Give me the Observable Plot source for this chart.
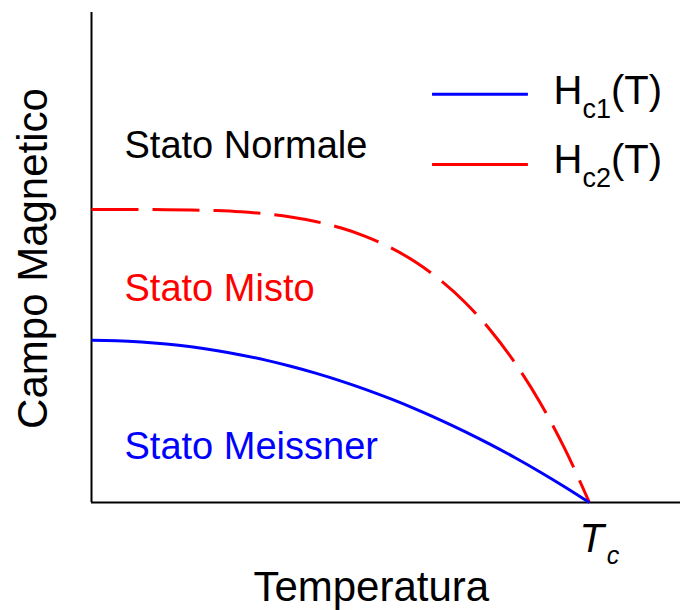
<!DOCTYPE html>
<html><head><meta charset="utf-8">
<script src="https://cdn.jsdelivr.net/npm/d3@7"></script>
<script src="https://cdn.jsdelivr.net/npm/@observablehq/plot@0.6"></script>
<style>body{margin:0;background:#fff}#chart{width:681px;height:610px}</style>
</head><body><div id="chart"></div>
<script>
// Temperature in units of Tc, field in arbitrary units (0–100 = axis height)
const temperature = [0,0.05,0.1,0.15,0.2,0.25,0.3,0.35,0.4,0.45,0.5,0.55,0.6,0.65,0.7,0.75,0.8,0.85,0.9,0.95,1];
const hc1 = [33.1,33.02,32.77,32.36,31.78,31.03,30.12,29.05,27.8,26.4,24.83,23.09,21.18,19.12,16.88,14.48,11.92,9.19,6.29,3.23,0];
const hc2 = [59.8,59.8,59.79,59.77,59.7,59.57,59.32,58.9,58.27,57.35,56.06,54.33,52.05,49.13,45.44,40.88,35.31,28.58,20.57,11.09,0];
const seriesNames = ["Hc1(T)", "Hc2(T)"];
const seriesColors = ["#0000ff", "#ff0000"];
const regionLabels = ["Stato Normale", "Stato Misto", "Stato Meissner"];
const regionColors = ["#000000", "#ff0000", "#0000ff"];
const xTickLabels = ["Tc"];
const xTitle = "Temperatura";
const yTitle = "Campo Magnetico";

const font = "'Liberation Sans', Arial, sans-serif";
const toRows = (ys) => temperature.map((t, i) => ({t, h: ys[i]}));

const xMax = 1.183;
const regionY = [70.4, 41.2, 8.8];
const legendY = [83.3, 69.0];
const legendTextY = [81.4, 67.3];

const plot = Plot.plot({
  width: 681,
  height: 610,
  marginLeft: 91,
  marginRight: 1,
  marginTop: 12,
  marginBottom: 108,
  x: {domain: [0, xMax], axis: null},
  y: {domain: [0, 100], axis: null},
  style: {fontFamily: font, background: "#fff", overflow: "visible"},
  marks: [
    Plot.ruleX([0], {y1: 0, y2: 100, stroke: "#000", strokeWidth: 2}),
    Plot.ruleY([0], {x1: 0, x2: xMax, stroke: "#000", strokeWidth: 2}),
    Plot.line(toRows(hc2), {x: "t", y: "h", stroke: seriesColors[1], strokeWidth: 3, strokeDasharray: "47,14", strokeLinecap: "butt", curve: "monotone-x"}),
    Plot.line(toRows(hc1), {x: "t", y: "h", stroke: seriesColors[0], strokeWidth: 3, strokeLinecap: "butt", curve: "monotone-x"}),
    // legend
    Plot.ruleY(seriesNames, {x1: 0.685, x2: 0.8775, y: (d, i) => legendY[i], stroke: (d, i) => seriesColors[i], strokeWidth: 3, strokeDasharray: (d, i) => i === 1 ? "47,14" : null}),
    Plot.text(seriesNames, {x: 0.928, y: (d, i) => legendTextY[i], text: d => d, textAnchor: "start", lineAnchor: "bottom", fontSize: 40, fill: "#000"}),
    // region labels
    Plot.text(regionLabels, {x: 0.0663, y: (d, i) => regionY[i], text: d => d, textAnchor: "start", lineAnchor: "bottom", fontSize: 38, fill: (d, i) => regionColors[i]}),
    // x tick
    Plot.text(xTickLabels, {x: 0.98, y: -10.2, text: d => d, textAnchor: "start", lineAnchor: "bottom", fontSize: 40, fontStyle: "italic", fill: "#000"}),
    // axis titles
    Plot.text([xTitle], {x: 0.562, y: -20.2, text: d => d, textAnchor: "middle", lineAnchor: "bottom", fontSize: 42, fill: "#000"}),
    Plot.text([yTitle], {x: -0.0884, y: 49.8, text: d => d, rotate: -90, textAnchor: "middle", lineAnchor: "bottom", fontSize: 42, fill: "#000"})
  ]
});

// subscripts
d3.select(plot).selectAll("text").each(function () {
  const t = this.textContent;
  const m = t.match(/^H(c\d)\(T\)$/);
  const s = d3.select(this);
  if (m) {
    s.text("");
    s.append("tspan").text("H");
    s.append("tspan").attr("dy", 14).attr("font-size", 27).text(m[1]);
    s.append("tspan").attr("dy", -14).text("(T)");
  } else if (t === "Tc") {
    s.text("");
    s.append("tspan").text("T");
    s.append("tspan").attr("dy", 12).attr("dx", 3).attr("font-size", 25).text("c");
  }
});

document.getElementById("chart").appendChild(plot);
</script>
</body></html>
